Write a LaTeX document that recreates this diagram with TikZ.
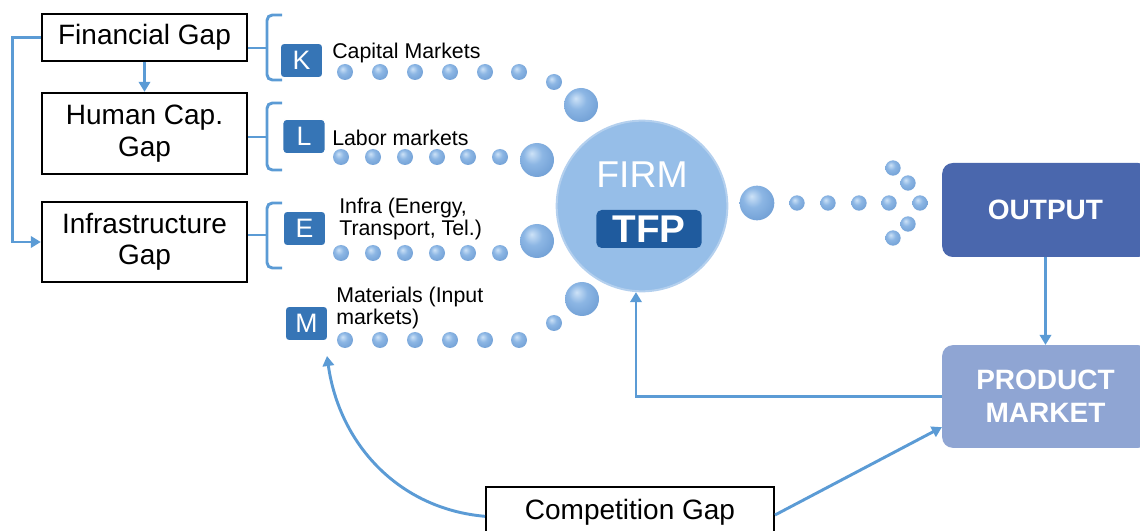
\documentclass[tikz,border=0pt]{standalone}
\usepackage{fontspec}
\setmainfont{Liberation Sans}
\usetikzlibrary{positioning}
\usetikzlibrary{arrows.meta}
\usetikzlibrary{shapes}
\definecolor{flowblue}{RGB}{91,155,213}
\definecolor{badgeblue}{RGB}{54,117,182}
\definecolor{tfpblue}{RGB}{31,91,158}
\definecolor{outputblue}{RGB}{74,103,173}
\definecolor{marketblue}{RGB}{143,165,211}
\definecolor{firmblue}{RGB}{150,190,232}
\definecolor{firmedge}{RGB}{180,208,238}
\definecolor{dotlight}{RGB}{205,226,247}
\definecolor{dotblue}{RGB}{140,182,228}
\definecolor{dotdark}{RGB}{104,152,208}
\definecolor{dotrim}{RGB}{190,215,243}
\pgfdeclareradialshading{bubble}{\pgfpoint{-8bp}{10bp}}{
	color(0bp)=(dotlight);
	color(14bp)=(dotblue);
	color(38bp)=(dotdark);
	color(50bp)=(dotblue);
	color(60bp)=(dotrim)}
\tikzset{
	gapbox/.style={
		rectangle,
		draw=black,
		line width=1.5pt,
		fill=white,
		align=center,
		inner sep=0pt,
		minimum width=154pt,
		font=\fontsize{21}{23.5}\selectfont
	},
	badge/.style={
		rectangle,
		rounded corners=3pt,
		fill=badgeblue,
		draw=white,
		line width=1pt,
		text=white,
		minimum width=32pt,
		minimum height=26pt,
		font=\fontsize{20}{22}\selectfont
	},
	market/.style={
		inner sep=0pt,
		align=left,
		font=\fontsize{16}{16.5}\selectfont
	},
	result/.style={
		rectangle,
		rounded corners=8pt,
		text=white,
		align=center,
		minimum width=155pt,
		font=\bfseries\fontsize{21}{25}\selectfont
	},
	flow/.style={draw=flowblue, line width=2.2pt},
	ball/.style={shading=bubble}
}

\begin{document}
\begin{tikzpicture}[x=0.75pt, y=-0.75pt, >={Triangle[length=7.5pt,width=8.5pt]}]
		\useasboundingbox (0,0) rectangle (1140,531);
		
		% gaps
		\node[gapbox, minimum height=35pt] (Financial) at (144.5,37.5) {Financial Gap};
		\node[gapbox, minimum height=61pt] (HumanCap) at (144.5,133.5) {Human Cap.\\Gap};
		\node[gapbox, minimum height=60pt] (Infra) at (144.5,242) {Infrastructure\\Gap};
		\node[gapbox, anchor=north, minimum width=216pt, inner ysep=5pt, text height=19pt, text depth=25pt] (Competition) at (630,486) {Competition Gap};
		
		% inputs
		\node[badge] (K) at (301.5,60.5) {K};
		\node[badge] (L) at (304,136.5) {L};
		\node[badge] (E) at (304.5,228.5) {E};
		\node[badge] (M) at (306.5,323.5) {M};
		\node[market, anchor=base west] (Capital) at (332,59) {Capital Markets};
		\node[market, anchor=base west] (Labor) at (332,146) {Labor markets};
		\node[market, anchor=west] (Energy) at (339,219) {Infra (Energy,\\Transport, Tel.)};
		\node[market, anchor=west] (Materials) at (336,308) {Materials (Input\\markets)};
		
		% firm
		\node[circle, fill=firmblue, draw=firmedge, line width=1.5pt, minimum size=128pt, inner sep=0pt] (Firm) at (642,206) {};
		\node[text=white, font=\fontsize{28}{30}\selectfont] (FirmText) at (642,175) {FIRM};
		\node[rectangle, rounded corners=4pt, fill=tfpblue, text=white, inner sep=0pt, minimum width=79pt, minimum height=28.5pt, font=\bfseries\fontsize{29}{30}\selectfont] (TFP) at (649,229) {TFP};
		
		% output side
		\node[result, fill=outputblue, minimum height=70.5pt] (Output) at (1045.5,210) {OUTPUT};
		\node[result, fill=marketblue, minimum height=77pt] (ProductMarket) at (1045.5,396.5) {PRODUCT\\MARKET};
		
		% dotted flows
		\foreach \x in {345,380,415,450,485,519} \shade[ball] (\x,72) circle (6pt);
		\shade[ball] (554,82) circle (6pt);
		\shade[ball] (581,105) circle (12.75pt);
		\foreach \x in {341,373,405,437,468,500} \shade[ball] (\x,157) circle (6pt);
		\shade[ball] (537,160) circle (12.75pt);
		\foreach \x in {341,373,405,437,468,500} \shade[ball] (\x,253) circle (6pt);
		\shade[ball] (537,241) circle (12.75pt);
		\foreach \x in {345,380,415,450,485,519} \shade[ball] (\x,340) circle (6pt);
		\shade[ball] (554,323) circle (6pt);
		\shade[ball] (582,299) circle (12.75pt);
		\shade[ball] (757,203) circle (13pt);
		\foreach \x/\y in {797/203,828/203,859/203,889/203,920/203,893/168,908/183,908/224,893/238} \shade[ball] (\x,\y) circle (5.75pt);
		
		% brackets
		\coordinate (Kbr) at (267,48);
		\coordinate (Lbr) at (267,137);
		\coordinate (Ebr) at (267,235);
		\draw[flow] (Financial.east |- Kbr) -- (Kbr);
		\draw[flow, rounded corners=4pt] (282,15) -| (Kbr) |- (282,80);
		\draw[flow] (HumanCap.east |- Lbr) -- (Lbr);
		\draw[flow, rounded corners=4pt] (282,103) -| (Lbr) |- (282,170);
		\draw[flow] (Infra.east |- Ebr) -- (Ebr);
		\draw[flow, rounded corners=4pt] (282,203) -| (Ebr) |- (282,268);
		
		% arrows
		\coordinate (Mfoot) at (327,356);
		\draw[flow, ->] (Financial.west) -- ++(-28,0) |- (Infra.west);
		\draw[flow, ->] (Financial.south) -- (HumanCap.north);
		\draw[flow, ->] (Output.south) -- (ProductMarket.north);
		\draw[flow, ->] (ProductMarket.west) -| (Firm.-94);
		\draw[flow, ->] ([yshift=6pt]Competition.east) -- ([yshift=-23pt]ProductMarket.west);
		\draw[flow, ->] ([yshift=5pt]Competition.west) to[out=175, in=-82] (Mfoot);
	\end{tikzpicture}
\end{document}
